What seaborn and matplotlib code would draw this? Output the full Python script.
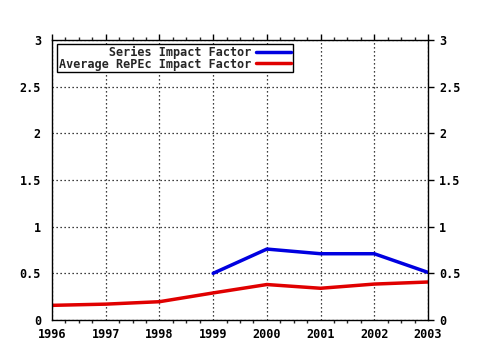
import matplotlib
matplotlib.use("Agg")
import matplotlib.pyplot as plt
import seaborn as sns
import pandas as pd
from matplotlib.ticker import MultipleLocator, FuncFormatter

years_series = [1999, 2000, 2001, 2002, 2003]
series_if = [0.50, 0.76, 0.71, 0.71, 0.51]
years_avg = [1996, 1997, 1998, 1999, 2000, 2001, 2002, 2003]
avg_if = [0.157, 0.17, 0.196, 0.29, 0.38, 0.34, 0.385, 0.407]
label_series = "       Series Impact Factor"
label_avg = "Average RePEc Impact Factor"

df = pd.concat([
    pd.DataFrame({"year": years_series, "value": series_if, "series": label_series}),
    pd.DataFrame({"year": years_avg, "value": avg_if, "series": label_avg}),
])

sns.set_style("white")
plt.rcParams["font.family"] = ["DejaVu Sans Mono"]
plt.rcParams["font.weight"] = "bold"

fig = plt.figure(figsize=(4.8, 3.5), dpi=100)
ax = fig.add_axes([52/480, 30/350, 376/480, 280/350])

sns.lineplot(data=df, x="year", y="value", hue="series",
             palette={label_series: "#0000e0", label_avg: "#e00000"},
             linewidth=2.5, ax=ax, legend=True)

ax.set_xlim(1996, 2003)
ax.set_ylim(0, 3)
ax.set_xlabel("")
ax.set_ylabel("")
ax.xaxis.set_major_locator(MultipleLocator(1))
ax.xaxis.set_minor_locator(MultipleLocator(0.25))
ax.yaxis.set_major_locator(MultipleLocator(0.5))
ax.xaxis.set_major_formatter(FuncFormatter(lambda v, p: f"{int(round(v))}"))
ax.yaxis.set_major_formatter(FuncFormatter(lambda v, p: f"{v:g}"))

ax.grid(True, which="major", color="black", linestyle=(0, (1, 2.2)), linewidth=0.9)
for s in ax.spines.values():
    s.set_visible(True)
    s.set_color("black")
    s.set_linewidth(1.0)

ax.tick_params(axis="both", which="major", direction="out", length=4, width=1,
               colors="black", labelsize=8.5, top=True, right=True,
               labelright=True, labeltop=False)
ax.tick_params(axis="x", which="major", pad=1.5)
ax.tick_params(axis="y", which="major", pad=4)
ax.tick_params(axis="x", which="minor", direction="out", length=2, width=1,
               top=True, bottom=True)
for lab in ax.get_xticklabels() + ax.get_yticklabels():
    lab.set_fontweight("bold")

handles, labels = ax.get_legend_handles_labels()
leg = ax.legend(handles, labels, loc="upper left", bbox_to_anchor=(0.013, 0.986),
                markerfirst=False, frameon=True, fancybox=False, framealpha=1,
                edgecolor="black", fontsize=8.5, handlelength=3.0,
                borderpad=0.15, labelspacing=-0.1, handletextpad=0.4,
                borderaxespad=0)
leg.get_frame().set_linewidth(1.0)
for t in leg.get_texts():
    t.set_fontweight("bold")

fig.savefig("out.png", dpi=100)
